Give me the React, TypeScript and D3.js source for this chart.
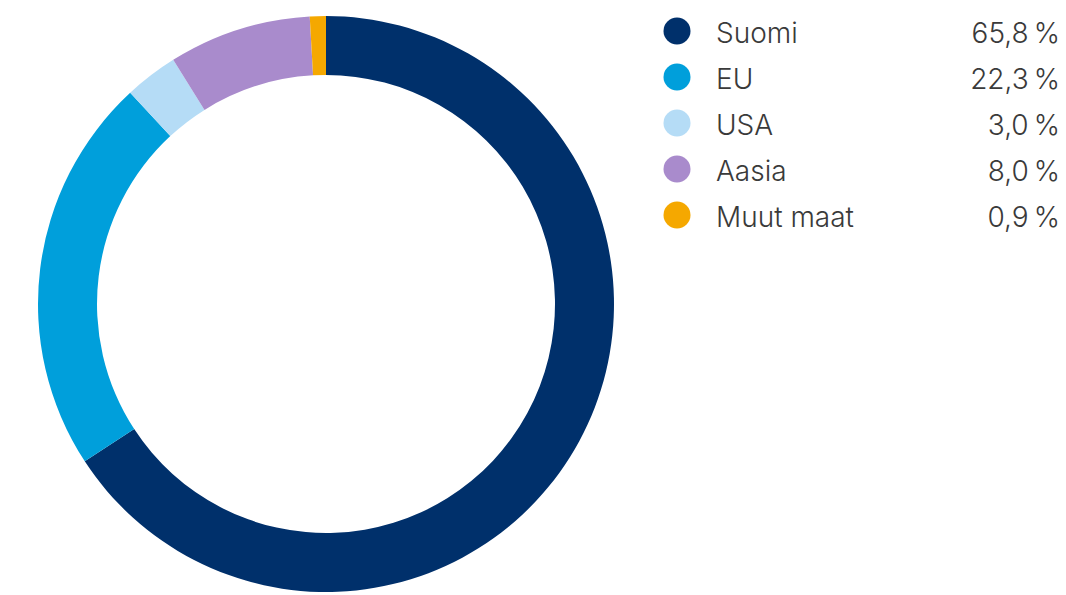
import React from "react";
import * as d3 from "d3";

const categories = ["Suomi", "EU", "USA", "Aasia", "Muut maat"];
const values = [65.8, 22.3, 3.0, 8.0, 0.9];
const valueLabels = ["65,8\u2009%", "22,3\u2009%", "3,0\u2009%", "8,0\u2009%", "0,9\u2009%"];
const colors = ["#00306b", "#009fdb", "#b5dcf6", "#a98bcc", "#f5a800"];

export default function App() {
  const W = 1066, H = 595;
  const cx = 326, cy = 304, R = 288, r = 229;
  const pie = d3.pie<number>().sort(null).value((d) => d)(values);
  const arc = d3.arc<d3.PieArcDatum<number>>().innerRadius(r).outerRadius(R);
  const legendY = d3.scalePoint<string>().domain(categories).range([31, 215]);
  return (
    <svg width={W} height={H} style={{ position: "absolute", left: 0, top: 0 }}>
      <g transform={`translate(${cx},${cy})`}>
        {pie.map((p, i) => (
          <path key={i} d={arc(p) || ""} fill={colors[i]} />
        ))}
      </g>
      <g fontFamily="Inter, sans-serif" fontWeight={300} fontSize={28} fill="#3a3a3a">
        {categories.map((c, i) => {
          const y = legendY(c)!;
          return (
            <g key={c}>
              <circle cx={677} cy={y} r={13.5} fill={colors[i]} />
              <text x={716} y={y + 12}>{c}</text>
              <text x={1060} y={y + 12} textAnchor="end">{valueLabels[i]}</text>
            </g>
          );
        })}
      </g>
    </svg>
  );
}
